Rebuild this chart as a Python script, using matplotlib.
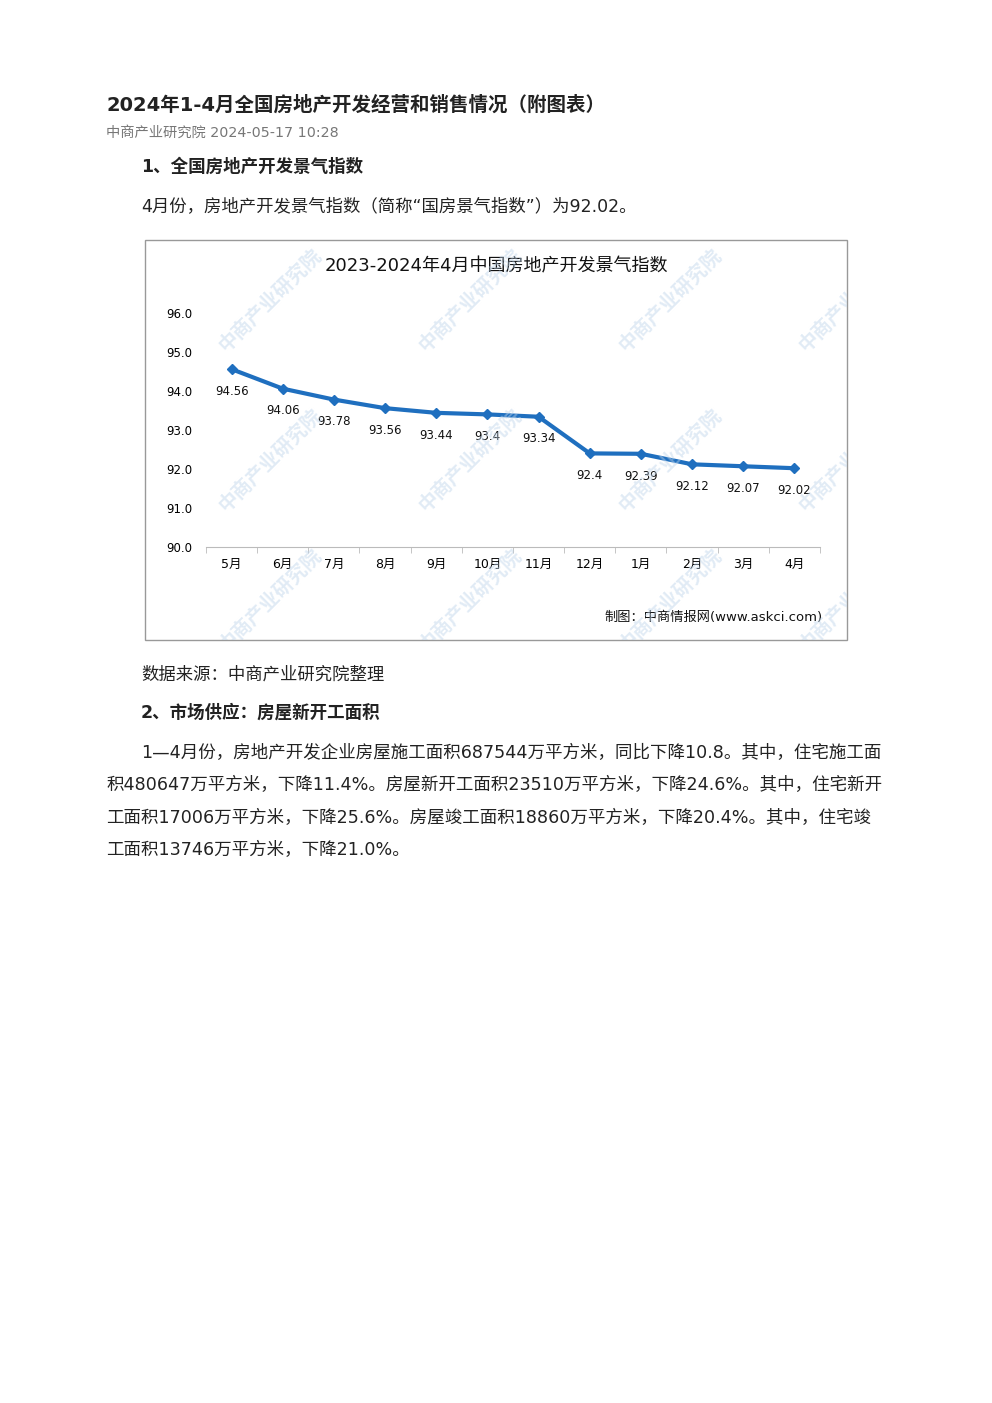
import matplotlib
matplotlib.use("Agg")
import matplotlib.pyplot as plt
from matplotlib.patches import Rectangle
import numpy as np

plt.rcParams['font.family'] = ['DejaVu Sans', 'Noto Sans CJK SC']

months = ['5月', '6月', '7月', '8月', '9月', '10月', '11月', '12月', '1月', '2月', '3月', '4月']
values = [94.56, 94.06, 93.78, 93.56, 93.44, 93.4, 93.34, 92.4, 92.39, 92.12, 92.07, 92.02]
labels = ['94.56', '94.06', '93.78', '93.56', '93.44', '93.4', '93.34', '92.4', '92.39', '92.12', '92.07', '92.02']
yticks = [90.0, 91.0, 92.0, 93.0, 94.0, 95.0, 96.0]

W, H = 992, 1403
fig = plt.figure(figsize=(W / 100, H / 100), dpi=100)

def px(x, y):
    return x / W, 1 - y / H

# page text
dark = '#222222'
fig.text(*px(106, 105), '2024年1-4月全国房地产开发经营和销售情况（附图表）', fontsize=14, weight='bold', color=dark, va='center')
fig.text(*px(106, 133), '中商产业研究院 2024-05-17 10:28', fontsize=10.3, color='#777777', va='center')
fig.text(*px(141, 167), '1、全国房地产开发景气指数', fontsize=12.6, weight='bold', color=dark, va='center')
fig.text(*px(141, 206), '4月份，房地产开发景气指数（简称“国房景气指数”）为92.02。', fontsize=12.5, color=dark, va='center')
fig.text(*px(141, 675), '数据来源：中商产业研究院整理', fontsize=12.5, color=dark, va='center')
fig.text(*px(141, 713), '2、市场供应：房屋新开工面积', fontsize=12.6, weight='bold', color=dark, va='center')
body = ['1—4月份，房地产开发企业房屋施工面积687544万平方米，同比下降10.8。其中，住宅施工面',
        '积480647万平方米，下降11.4%。房屋新开工面积23510万平方米，下降24.6%。其中，住宅新开',
        '工面积17006万平方米，下降25.6%。房屋竣工面积18860万平方米，下降20.4%。其中，住宅竣',
        '工面积13746万平方米，下降21.0%。']
xs = [141, 106, 106, 106]
for i, line in enumerate(body):
    fig.text(*px(xs[i], 753 + i * 32.5), line, fontsize=12.6, color=dark, va='center')

# chart frame
x0, y0 = px(145, 640)
frame = Rectangle((x0, y0), 702 / W, 400 / H, transform=fig.transFigure,
                  fill=False, edgecolor='#999999', lw=1)
fig.patches.append(frame)
fig.text(*px(496, 266), '2023-2024年4月中国房地产开发景气指数', fontsize=13, ha='center', va='center', color='#111111')
fig.text(*px(823, 617), '制图：中商情报网(www.askci.com)', fontsize=9.5, ha='right', va='center', color='#111111')

# watermarks
for wx in [270, 470, 670, 850]:
    for wy in [300, 460, 600]:
        t = fig.text(*px(wx, wy), '中商产业研究院', fontsize=14, rotation=45, color='#bcd3ea',
                     alpha=0.45, ha='center', va='center', weight='bold')
        t.set_clip_path(frame)

l, b = px(206, 547)
ax = fig.add_axes([l, b, 614 / W, 234 / H])
ax.patch.set_alpha(0)
x = np.arange(len(months))
ax.plot(x, values, color='#1f6fbf', lw=3, marker='D', ms=5, mfc='#1f6fbf')
for xi, v, t in zip(x, values, labels):
    ax.annotate(t, (xi, v), xytext=(0, -16), textcoords='offset points', ha='center', va='center',
                fontsize=8.5, color='#111111')
ax.set_xlim(-0.5, 11.5)
ax.set_ylim(90, 96)
ax.set_yticks(yticks)
ax.set_yticklabels([f'{t:.1f}' for t in yticks], fontsize=8.5)
ax.set_xticks(x)
ax.set_xticklabels(months, fontsize=9)
ax.set_xticks(np.arange(-0.5, 12, 1), minor=True)
ax.tick_params(axis='x', which='major', length=0, pad=8)
ax.tick_params(axis='x', which='minor', length=4, color='#bbbbbb')
ax.tick_params(axis='y', length=0, pad=10)
for s in ['top', 'right', 'left']:
    ax.spines[s].set_visible(False)
ax.spines['bottom'].set_color('#bbbbbb')

fig.savefig('out.png', dpi=100)
